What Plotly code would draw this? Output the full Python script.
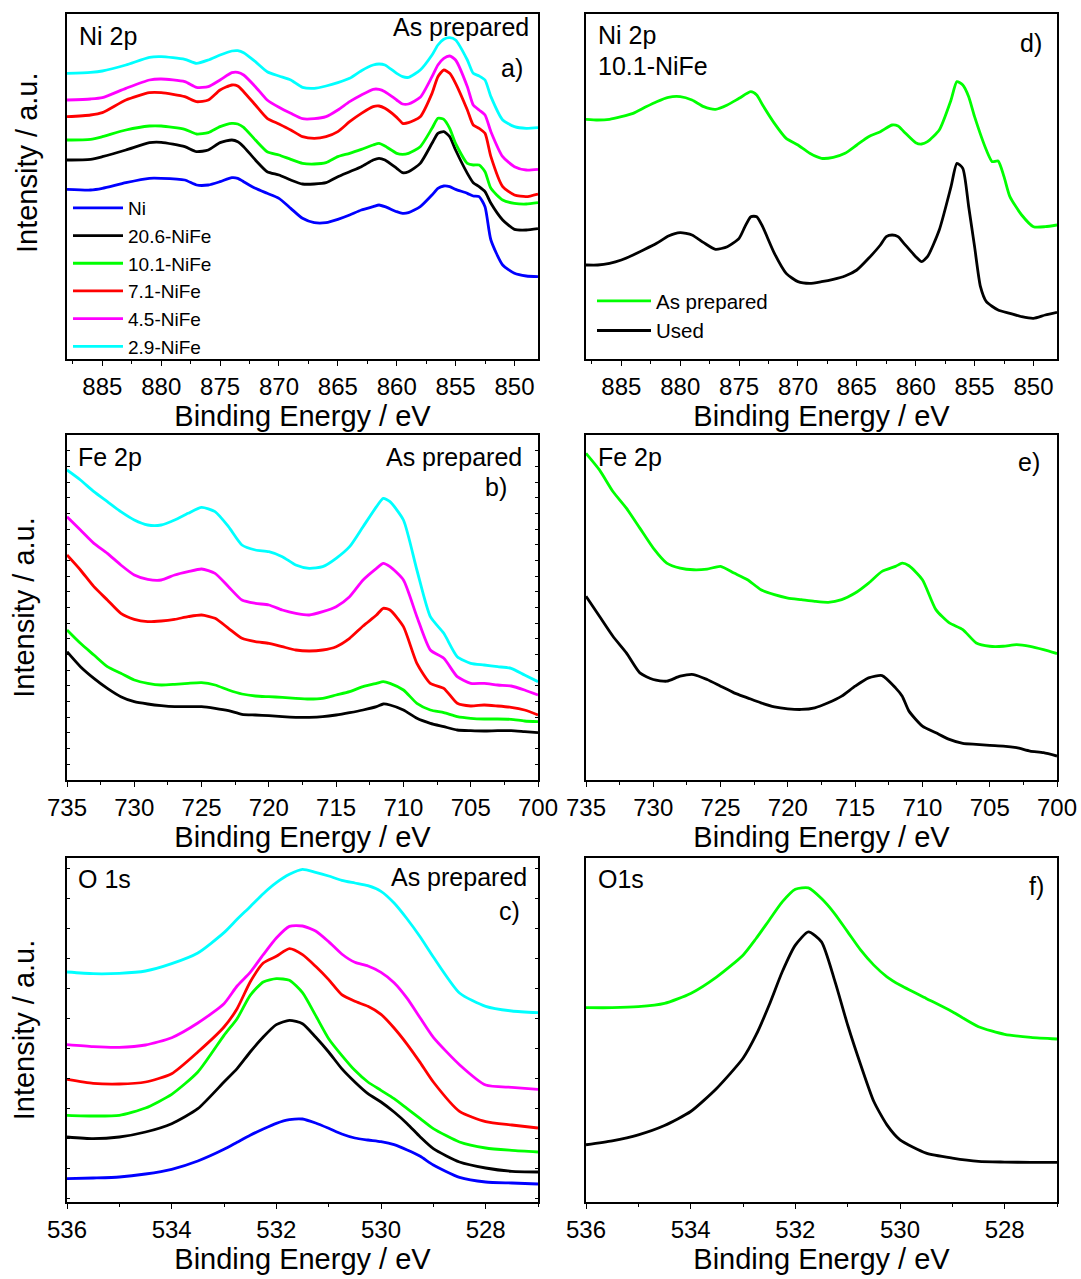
import plotly.graph_objects as go

FONT = "Arial, 'Liberation Sans', sans-serif"
W, H = 1081, 1279

# ---------------- data (intensities in arbitrary units) ----------------
# Panel a: Ni 2p, as prepared
be_ni = [888, 886, 885, 883, 881, 880, 878, 877, 876, 875, 874, 873.5, 873, 872, 871, 870, 869,
         868, 867, 866, 865, 864, 863, 862, 861.5, 861, 860, 859.5, 859, 858, 857, 856.5, 856,
         855.5, 855, 854, 853.5, 853, 852.5, 852, 851, 850, 849, 848]
ni_Ni = [532, 530, 535, 552, 565, 565, 560, 545, 545, 555, 567, 565, 555, 535, 520, 505, 475,
         445, 432, 432, 442, 455, 470, 480, 485, 480, 465, 460, 462, 480, 515, 535, 542,
         540, 532, 520, 512, 510, 480, 380, 305, 280, 272, 270]
ni_206 = [620, 622, 630, 650, 672, 673, 660, 645, 650, 672, 680, 675, 660, 620, 585, 575, 560,
          548, 548, 552, 570, 585, 600, 620, 625, 620, 595, 582, 585, 610, 670, 700, 705,
          690, 650, 580, 552, 540, 525, 490, 440, 412, 410, 414]
ni_101 = [680, 682, 690, 710, 722, 722, 712, 698, 702, 720, 730, 728, 718, 680, 645, 635, 622,
          610, 608, 612, 630, 640, 652, 665, 670, 662, 640, 637, 640, 660, 715, 745, 742,
          715, 670, 610, 605, 605, 585, 535, 500, 490, 488, 492]
ni_71 = [750, 755, 762, 800, 822, 822, 810, 795, 800, 830, 845, 842, 825, 785, 745, 728, 710,
         690, 685, 690, 705, 735, 760, 780, 782, 775, 748, 730, 732, 750, 820, 870, 890,
         880, 850, 770, 725, 715, 700, 630, 540, 515, 510, 518]
ni_45 = [800, 803, 807, 835, 860, 863, 855, 838, 840, 860, 882, 883, 875, 840, 800, 778, 760,
         744, 744, 750, 770, 795, 815, 832, 832, 825, 800, 788, 788, 808, 870, 905, 925,
         932, 920, 840, 785, 770, 755, 705, 630, 600, 590, 592]
ni_29 = [880, 883, 887, 905, 928, 930, 922, 910, 920, 935, 947, 948, 942, 915, 885, 872, 860,
         838, 835, 842, 852, 865, 888, 905, 908, 905, 880, 870, 868, 890, 935, 965, 982,
         987, 980, 920, 880, 872, 860, 810, 740, 720, 715, 717]

# Panel d: Ni 2p, 10.1-NiFe as prepared vs used
be_d_ap = [888, 887, 886, 885, 884, 883, 882, 881, 880, 879, 878, 877, 876, 875, 874, 873.5, 873,
           872, 871, 870, 869, 868, 867, 866, 865, 864, 863, 862, 861.5, 861, 860, 859.5, 859,
           858, 857, 856.5, 856, 855.5, 855, 854, 853.5, 853, 852.5, 852, 851, 850, 849, 848]
d_ap = [742, 740, 742, 750, 760, 778, 795, 808, 810, 800, 780, 772, 785, 805, 825, 815, 785,
        730, 685, 665, 640, 625, 628, 640, 665, 690, 705, 725, 722, 705, 672, 668, 675,
        710, 800, 855, 845, 810, 750, 650, 615, 617, 570, 510, 455, 420, 420, 425]
be_d_used = [888, 887, 886, 885, 884, 883, 882, 881, 880, 879, 878, 877, 876, 875, 874.5, 874,
             873.5, 873, 872, 871, 870, 869, 868, 867, 866, 865, 864, 863, 862.5, 862, 861.5,
             861, 860, 859.5, 859, 858, 857, 856.5, 856, 855.5, 855, 854.5, 854, 853, 852,
             851, 850, 849, 848]
d_used = [305, 305, 310, 320, 335, 352, 370, 392, 402, 395, 372, 352, 360, 385, 420, 450,
          450, 420, 340, 280, 255, 250, 255, 262, 272, 290, 325, 365, 390, 395, 390,
          370, 330, 315, 330, 410, 540, 610, 595, 480, 360, 240, 195, 170, 160,
          150, 145, 155, 163]

# Panels b and e: Fe 2p
be_fe = [735, 734, 733, 732, 731, 730, 729, 728, 727, 726, 725, 724, 723, 722, 721, 720, 719,
         718, 717, 716, 715, 714, 713, 712, 711.5, 711, 710, 709, 708, 707, 706, 705, 704,
         703, 702, 701, 700]
fe_206 = [405, 360, 325, 295, 270, 255, 248, 243, 240, 240, 240, 235, 228, 217, 215, 213, 210,
          208, 208, 210, 215, 222, 230, 240, 248, 245, 230, 205, 190, 180, 170, 168, 167,
          168, 168, 165, 162]
fe_101 = [470, 430, 395, 360, 340, 320, 310, 305, 307, 310, 312, 305, 290, 278, 272, 270, 268,
          265, 263, 265, 275, 285, 300, 310, 315, 310, 290, 250, 230, 222, 210, 205, 203,
          203, 202, 197, 195]
fe_71 = [695, 650, 600, 560, 520, 502, 495, 497, 502, 510, 515, 505, 475, 445, 435, 430, 420,
         410, 407, 410, 420, 445, 482, 515, 535, 530, 480, 370, 310, 295, 250, 242, 245,
         242, 238, 230, 215]
fe_45 = [810, 770, 730, 700, 665, 635, 622, 620, 635, 645, 653, 640, 600, 560, 550, 545, 530,
         520, 515, 525, 540, 570, 620, 655, 670, 660, 620, 510, 410, 385, 330, 310, 310,
         305, 302, 290, 275]
fe_29 = [950, 920, 885, 855, 825, 800, 785, 785, 800, 820, 838, 825, 780, 725, 710, 705, 690,
         665, 655, 660, 685, 720, 780, 840, 865, 855, 800, 650, 510, 460, 390, 370, 365,
         360, 355, 335, 315]
fe_e_ap = [1000, 950, 885, 835, 775, 715, 670, 655, 650, 652, 660, 640, 620, 590, 575, 565, 560,
           555, 552, 560, 580, 610, 645, 660, 670, 662, 620, 530, 490, 470, 430, 420, 420,
           425, 420, 410, 398]
fe_e_used = [570, 510, 450, 400, 340, 320, 315, 330, 335, 320, 300, 280, 265, 250, 238, 232, 230,
             235, 250, 270, 300, 325, 332, 295, 270, 225, 180, 160, 140, 128, 125, 122, 120,
             115, 105, 100, 90]

# Panels c and f: O 1s
be_o = [536, 535.5, 535, 534.5, 534, 533.5, 533, 532.75, 532.5, 532.25, 532, 531.75, 531.5,
        531.25, 531, 530.75, 530.5, 530.25, 530, 529.75, 529.5, 529.25, 529, 528.5, 528,
        527.5, 527]
o_Ni = [110, 112, 115, 124, 138, 163, 198, 219, 240, 259, 276, 287, 289, 277, 261, 244, 232,
        226, 221, 212, 196, 177, 151, 114, 100, 97, 94]
o_206 = [235, 230, 235, 250, 275, 320, 400, 440, 490, 535, 572, 585, 575, 535, 490, 440, 400,
         365, 340, 310, 275, 235, 200, 160, 142, 132, 130]
o_101 = [300, 298, 300, 322, 363, 430, 540, 590, 660, 700, 710, 705, 668, 600, 530, 480, 435,
         400, 375, 350, 320, 290, 260, 220, 202, 195, 190]
o_71 = [408, 396, 394, 400, 425, 490, 565, 620, 700, 757, 777, 800, 782, 747, 707, 662, 642,
        627, 603, 562, 513, 458, 400, 312, 281, 271, 262]
o_45 = [512, 506, 504, 511, 533, 577, 635, 688, 729, 782, 832, 867, 868, 853, 821, 784, 759,
        748, 729, 698, 651, 592, 534, 452, 391, 384, 378]
o_29 = [730, 725, 726, 733, 755, 787, 848, 888, 926, 965, 998, 1023, 1038, 1029, 1018, 1005,
        997, 989, 972, 937, 889, 835, 775, 667, 627, 613, 608]
be_of = [536, 535.5, 535, 534.5, 534, 533.5, 533, 532.75, 532.5, 532.25, 532, 531.75, 531.5,
         531.25, 531, 530.75, 530.5, 530.25, 530, 529.5, 529, 528.5, 528, 527.5, 527]
of_ap = [622, 622, 625, 635, 665, 715, 780, 830, 885, 940, 978, 982, 950, 905, 850, 795, 750,
         715, 690, 650, 610, 565, 542, 533, 528]
of_used = [210, 222, 240, 268, 310, 380, 470, 540, 630, 730, 810, 850, 820, 705, 570, 450, 340,
           270, 225, 185, 170, 160, 158, 157, 157]

sample_names = ["Ni", "20.6-NiFe", "10.1-NiFe", "7.1-NiFe", "4.5-NiFe", "2.9-NiFe"]
sample_colors = ["#0000FF", "#000000", "#00FF00", "#FF0000", "#FF00FF", "#00FFFF"]

# ---------------- figure ----------------
fig = go.Figure()
LW = 2.8


def add(x, y, color, xa, ya, name=None, legend=None):
    fig.add_trace(go.Scatter(
        x=x, y=y, mode="lines", line=dict(color=color, width=LW, shape="spline", smoothing=0.6),
        xaxis=xa, yaxis=ya, name=name, showlegend=legend is not None,
        legend=legend if legend else "legend"))


# panel a
for nm, col, ys in zip(sample_names, sample_colors, [ni_Ni, ni_206, ni_101, ni_71, ni_45, ni_29]):
    add(be_ni, ys, col, "x", "y", nm, "legend")
# panel d
add(be_d_ap, d_ap, "#00FF00", "x2", "y2", "As prepared", "legend2")
add(be_d_used, d_used, "#000000", "x2", "y2", "Used", "legend2")
# panel b (no Ni trace)
for col, ys in zip(sample_colors[1:], [fe_206, fe_101, fe_71, fe_45, fe_29]):
    add(be_fe, ys, col, "x3", "y3")
# panel e
add(be_fe, fe_e_ap, "#00FF00", "x4", "y4")
add(be_fe, fe_e_used, "#000000", "x4", "y4")
# panel c
for col, ys in zip(sample_colors, [o_Ni, o_206, o_101, o_71, o_45, o_29]):
    add(be_o, ys, col, "x5", "y5")
# panel f
add(be_of, of_ap, "#00FF00", "x6", "y6")
add(be_of, of_used, "#000000", "x6", "y6")

colL = [67 / W, 538 / W]
colR = [586 / W, 1057 / W]
row1 = [1 - 359 / H, 1 - 14 / H]
row2 = [1 - 780 / H, 1 - 435 / H]
row3 = [1 - 1202 / H, 1 - 858 / H]

TITLE_FONT = dict(family=FONT, size=29, color="black")


def xax(domain, anchor, rng, dtick, mdtick, tick0):
    return dict(domain=domain, anchor=anchor, range=rng, autorange=False, automargin=False,
                showline=True, linecolor="black", linewidth=1.5, mirror=True,
                ticks="outside", ticklen=5, tickwidth=1.3, tickcolor="black",
                tickmode="linear", dtick=dtick, tick0=tick0,
                minor=dict(dtick=mdtick, tick0=tick0, ticks="outside", ticklen=3,
                           tickwidth=1.3, tickcolor="black", showgrid=False),
                tickfont=dict(family=FONT, size=24, color="black"),
                title=dict(text="Binding Energy / eV", font=TITLE_FONT, standoff=4),
                showgrid=False, zeroline=False)


def yax(domain, anchor, rng, title, tick0=None, dtick=None):
    d = dict(domain=domain, anchor=anchor, range=rng, autorange=False, automargin=False,
             showline=True, linecolor="black", linewidth=1.5, mirror=True,
             showticklabels=False, ticks="", showgrid=False, zeroline=False)
    if tick0 is not None:
        d.update(ticks="inside", ticklen=3, tickwidth=1, tickcolor="black", mirror="ticks",
                 tickmode="linear", tick0=tick0, dtick=dtick)
    if title:
        d["title"] = dict(text="Intensity / a.u.", font=TITLE_FONT, standoff=22)
    return d


fig.update_layout(
    width=W, height=H, margin=dict(l=0, r=0, t=0, b=0, autoexpand=False),
    paper_bgcolor="white", plot_bgcolor="white",
    xaxis=xax(colL, "y", [888, 848], 5, 2.5, 850),
    yaxis=yax(row1, "x", [23, 1058], False),
    xaxis2=xax(colR, "y2", [888, 848], 5, 2.5, 850),
    yaxis2=yax(row1, "x2", [23, 1058], False),
    xaxis3=xax(colL, "y3", [735, 700], 5, 2.5, 700),
    yaxis3=yax(row2, "x3", [20, 1055], True, 68, 47),
    xaxis4=xax(colR, "y4", [735, 700], 5, 2.5, 700),
    yaxis4=yax(row2, "x4", [18, 1055], False),
    xaxis5=xax(colL, "y5", [536, 527], 2, 1, 528),
    yaxis5=yax(row3, "x5", [40, 1072], True, 50, 90),
    xaxis6=xax(colR, "y6", [536, 527], 2, 1, 528),
    yaxis6=yax(row3, "x6", [38, 1072], False),
    legend=dict(x=68 / W, y=1 - 189 / H, xanchor="left", yanchor="top",
                font=dict(family=FONT, size=19, color="black"),
                bgcolor="rgba(0,0,0,0)", borderwidth=0, itemwidth=50, tracegroupgap=0),
    legend2=dict(x=592 / W, y=1 - 281 / H, xanchor="left", yanchor="top",
                 font=dict(family=FONT, size=20.5, color="black"),
                 bgcolor="rgba(0,0,0,0)", borderwidth=0, itemwidth=54, tracegroupgap=0),
)

# Row-1 intensity title sits above the panel's centre in the original, so place it explicitly
fig.add_annotation(text="Intensity / a.u.", x=27 / W, y=1 - 163 / H, xref="paper", yref="paper",
                   xanchor="center", yanchor="middle", textangle=-90, showarrow=False,
                   font=TITLE_FONT)


def note(text, x, y, anchor):
    fig.add_annotation(text=text, x=x / W, y=1 - y / H, xref="paper", yref="paper",
                       xanchor=anchor, yanchor="middle", showarrow=False,
                       font=dict(family=FONT, size=25, color="black"))


note("Ni 2p", 77, 36, "left")
note("As prepared", 531, 27, "right")
note("a)", 525, 68, "right")
note("Ni 2p", 596, 35, "left")
note("10.1-NiFe", 596, 66, "left")
note("d)", 1044, 43, "right")
note("Fe 2p", 76, 457, "left")
note("As prepared", 524, 457, "right")
note("b)", 509, 487, "right")
note("Fe 2p", 596, 457, "left")
note("e)", 1042, 462, "right")
note("O 1s", 76, 879, "left")
note("As prepared", 529, 877, "right")
note("c)", 522, 911, "right")
note("O1s", 596, 879, "left")
note("f)", 1046, 886, "right")

fig.write_html("out.html")
